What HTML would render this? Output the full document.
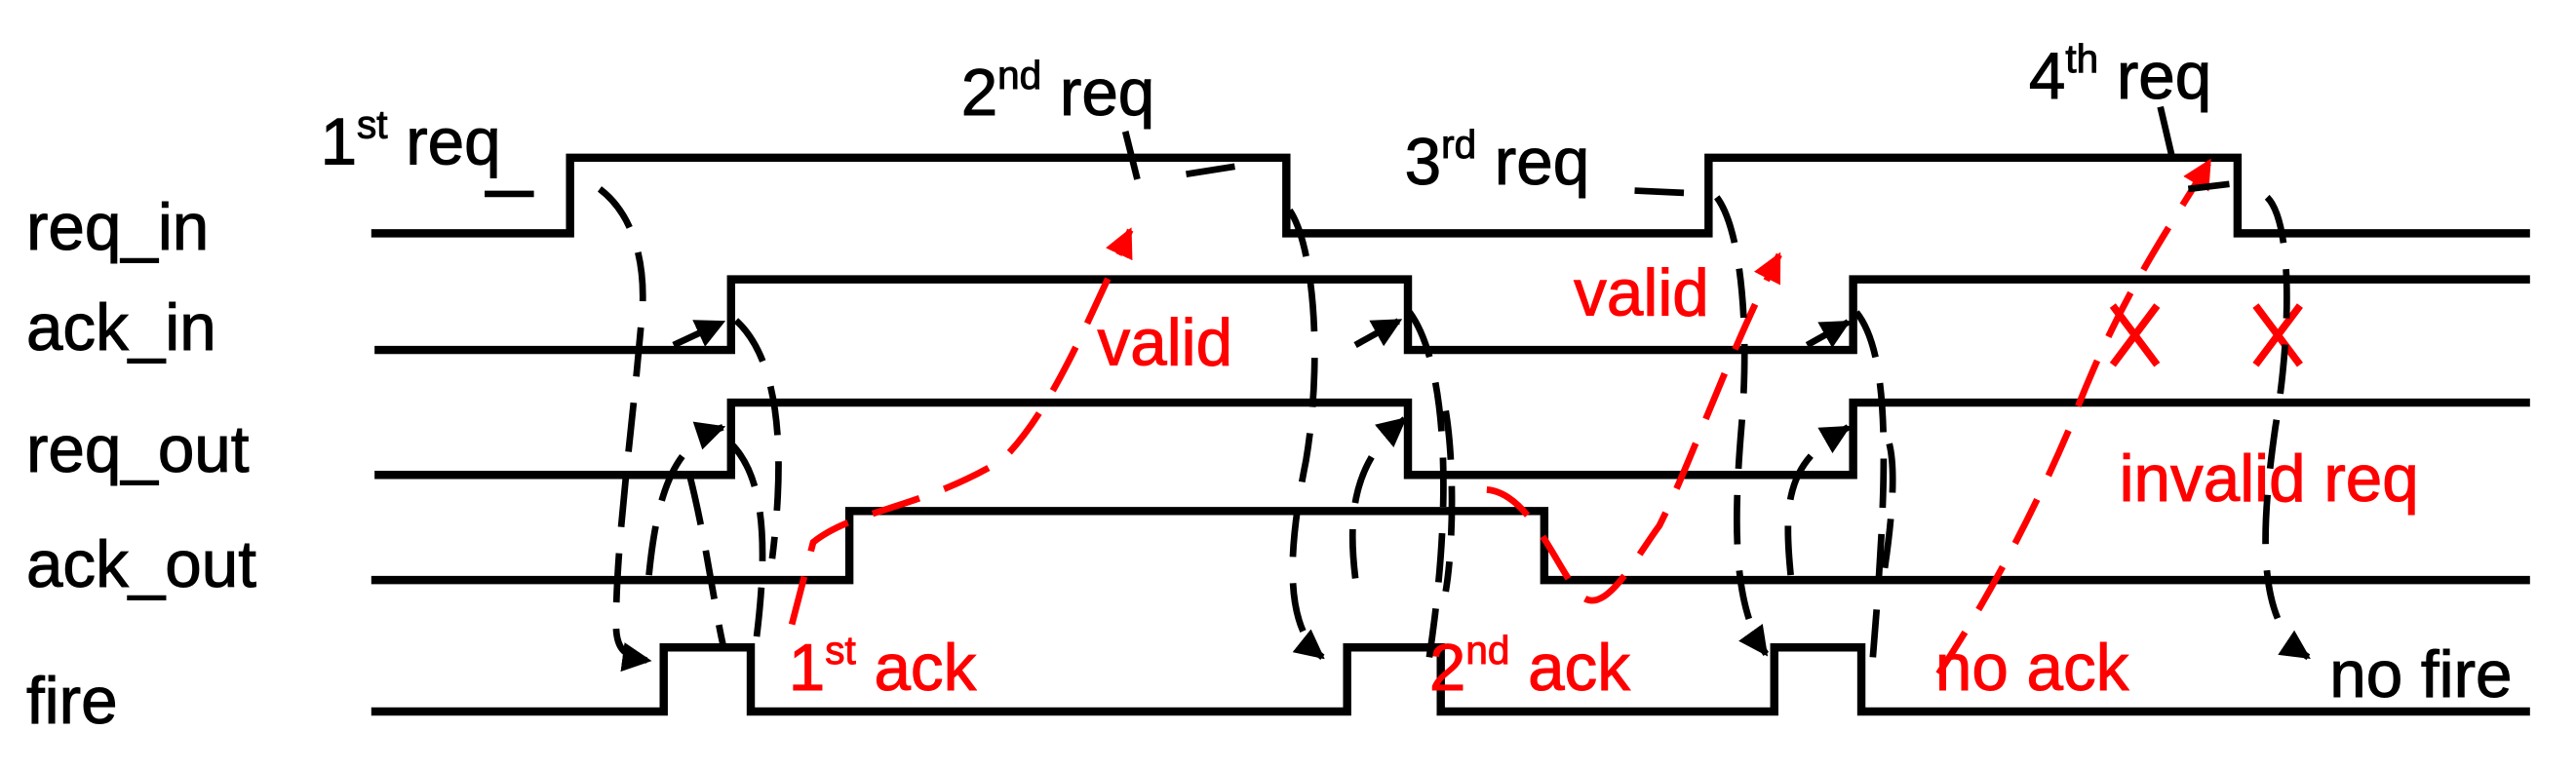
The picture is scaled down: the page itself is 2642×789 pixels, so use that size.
<!DOCTYPE html>
<html><head><meta charset="utf-8"><style>
html,body{margin:0;padding:0;background:#fff;}
svg{display:block;}
text{font-family:"Liberation Sans","DejaVu Sans",sans-serif;}
</style></head><body>
<svg width="2642" height="789" viewBox="0 0 1568 468" preserveAspectRatio="none" xmlns="http://www.w3.org/2000/svg">
<defs>
<marker id="ab" viewBox="0 0 10 10" refX="9" refY="5" markerWidth="4.5" markerHeight="4.5" orient="auto"><path d="M0,0L10,5L0,10z" fill="#000"/></marker>
<marker id="ar" viewBox="0 0 10 10" refX="9" refY="5" markerWidth="4.5" markerHeight="4.5" orient="auto"><path d="M0,0L10,5L0,10z" fill="#f00"/></marker>
</defs>
<g fill="none" stroke="#000" stroke-width="5" stroke-linejoin="miter">
<polyline points="226,142 347,142 347,96 783,96 783,142 1040,142 1040,96 1362,96 1362,142 1540,142"/>
<polyline points="228,213 445,213 445,170 857,170 857,213 1128,213 1128,170 1540,170"/>
<polyline points="228,289 445,289 445,245 857,245 857,289 1128,289 1128,245 1540,245"/>
<polyline points="226,353 517,353 517,311 940,311 940,353 1540,353"/>
<polyline points="226,433 404,433 404,394 457,394 457,433 820,433 820,394 877,394 877,433 1080,433 1080,394 1133,394 1133,433 1540,433"/>
</g>
<g font-size="40" fill="#000" stroke="#000" stroke-width="0.6">
<text x="16" y="152">req_in</text>
<text x="16" y="213">ack_in</text>
<text x="16" y="287">req_out</text>
<text x="16" y="357">ack_out</text>
<text x="16" y="440">fire</text>
<text x="195" y="100">1<tspan font-size="24" dy="-16">st</tspan><tspan dy="16"> req</tspan></text>
<text x="585" y="70">2<tspan font-size="24" dy="-16">nd</tspan><tspan dy="16"> req</tspan></text>
<text x="855" y="112">3<tspan font-size="24" dy="-16">rd</tspan><tspan dy="16"> req</tspan></text>
<text x="1235" y="60">4<tspan font-size="24" dy="-16">th</tspan><tspan dy="16"> req</tspan></text>
<text x="1418" y="424">no fire</text>
</g>
<g font-size="40" fill="#f00" stroke="#f00" stroke-width="0.6">
<text x="668" y="222">valid</text>
<text x="958" y="192">valid</text>
<text x="480" y="420">1<tspan font-size="24" dy="-16">st</tspan><tspan dy="16"> ack</tspan></text>
<text x="870" y="420">2<tspan font-size="24" dy="-16">nd</tspan><tspan dy="16"> ack</tspan></text>
<text x="1178" y="420">no ack</text>
<text x="1290" y="305">invalid req</text>
</g>
<g stroke="#f00" stroke-width="4.5" fill="none">
<path d="M1286,186 L1313,222 M1313,186 L1286,222"/>
<path d="M1373,186 L1400,222 M1400,186 L1373,222"/>
</g>
<g stroke="#f00" stroke-width="4" fill="none" stroke-dasharray="30,16">
<path d="M482,380 L495,330 C520,310 560,310 610,280 C640,250 660,200 688,140" marker-end="url(#ar)"/>
<path d="M905,298 C930,300 945,340 960,360 C975,380 995,340 1010,320 C1030,280 1050,220 1083,155" marker-end="url(#ar)"/>
<path d="M1180,410 C1200,380 1230,330 1260,260 C1290,180 1320,140 1345,98" marker-end="url(#ar)"/>
</g>
<g stroke="#000" stroke-width="4" fill="none" stroke-dasharray="30,16">
<path d="M295,118 L330,118"/>
<path d="M685,80 L693,112 M722,106 L760,100"/>
<path d="M995,116 L1038,118 M1332,115 L1357,112 M1315,65 L1322,95"/>
<path d="M365,115 C385,130 395,160 390,200 C385,260 375,330 375,380 C375,395 380,400 395,402" marker-end="url(#ab)"/>
<path d="M420,290 C430,330 435,370 440,392 M445,270 C465,290 468,330 460,392" />
<path d="M395,350 C400,300 410,270 440,260" marker-end="url(#ab)"/>
<path d="M410,210 L440,196" marker-end="url(#ab)"/>
<path d="M448,195 C470,215 480,260 470,340"/>
<path d="M785,128 C800,150 805,220 795,280 C785,330 780,380 805,400" marker-end="url(#ab)"/>
<path d="M825,352 C820,310 825,280 855,255" marker-end="url(#ab)"/>
<path d="M825,210 L852,195" marker-end="url(#ab)"/>
<path d="M858,190 C880,220 885,300 870,400 M880,250 C885,280 885,330 880,360"/>
<path d="M1045,120 C1060,140 1065,200 1060,260 C1055,320 1055,370 1075,398" marker-end="url(#ab)"/>
<path d="M1090,350 C1085,300 1090,280 1125,260" marker-end="url(#ab)"/>
<path d="M1100,210 L1125,196" marker-end="url(#ab)"/>
<path d="M1130,190 C1150,215 1150,280 1140,400 M1150,270 C1155,290 1150,330 1145,360"/>
<path d="M1380,120 C1395,135 1395,200 1385,260 C1375,330 1375,380 1405,400" marker-end="url(#ab)"/>
</g>
</svg>
</body></html>
